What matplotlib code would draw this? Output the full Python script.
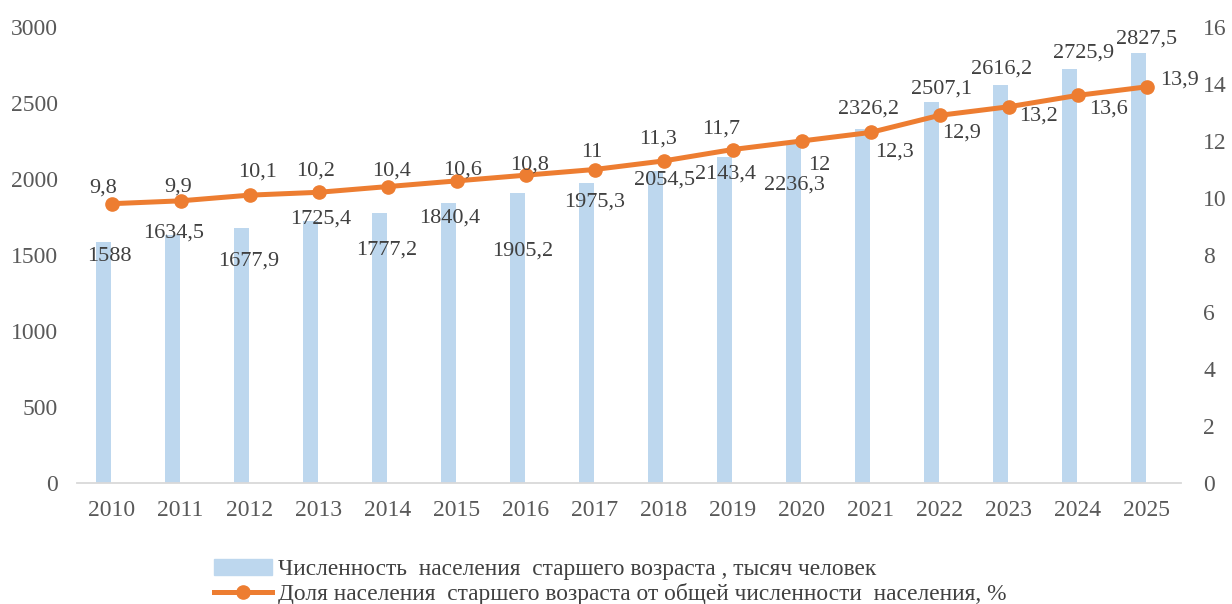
import matplotlib
matplotlib.use('Agg')
import matplotlib.pyplot as plt
from matplotlib.lines import Line2D
from matplotlib.patches import Patch
import numpy as np

plt.rcParams['font.family'] = ['Liberation Serif', 'DejaVu Serif']

years = ['2010', '2011', '2012', '2013', '2014', '2015', '2016', '2017',
         '2018', '2019', '2020', '2021', '2022', '2023', '2024', '2025']
population = [1588, 1634.5, 1677.9, 1725.4, 1777.2, 1840.4, 1905.2, 1975.3,
              2054.5, 2143.4, 2236.3, 2326.2, 2507.1, 2616.2, 2725.9, 2827.5]
share = [9.8, 9.9, 10.1, 10.2, 10.4, 10.6, 10.8, 11,
         11.3, 11.7, 12, 12.3, 12.9, 13.2, 13.6, 13.9]

bar_label = 'Численность  населения  старшего возраста , тысяч человек'
line_label = 'Доля населения  старшего возраста от общей численности  населения, %'

# label offsets in pixels (dx, dy downwards)
bar_offsets = [(6, 15), (1, -2), (7, 33), (10, -2), (7, 37), (1, 15), (5, 58), (8, 19),
               (9, 9), (1, 17), (1, 42), (6, -20), (10, -13), (1, -16), (14, -16), (8, -14)]
line_offsets = [(-8, -16), (-2, -14), (8, -23), (-3, -21), (4, -16), (6, -11), (4, -10), (-3, -17),
                (-5, -22), (-11, -21), (18, 24), (24, 20), (22, 18), (30, 9), (31, 14), (33, -7)]

bar_color = '#BDD7EE'
line_color = '#ED7D31'
tick_color = '#595959'
label_color = '#404040'


def fmt(v):
    return f'{v:g}'.replace('.', ',')


fig = plt.figure(figsize=(12.32, 6.04), dpi=100)
ax = fig.add_axes([77 / 1232, 1 - 483 / 604, 1104 / 1232, 456 / 604])
ax2 = ax.twinx()

x = np.arange(len(years))
bx = x - 0.116
ax.bar(bx, population, width=0.21, color=bar_color)
ax2.plot(x, share, color=line_color, lw=3.6, marker='o', ms=9.5)

ax.set_xlim(-0.5, len(years) - 0.5)
ax.set_ylim(0, 3000)
ax2.set_ylim(0, 16)
ax.set_yticks(np.arange(0, 3001, 500))
ax2.set_yticks(np.arange(0, 17, 2))
ax.set_xticks(x)
ax.set_xticklabels(years)

for a in (ax, ax2):
    for s in a.spines.values():
        s.set_visible(False)
ax.spines['bottom'].set_visible(True)
ax.spines['bottom'].set_color('#D9D9D9')
ax.spines['bottom'].set_linewidth(1.3)

ax.tick_params(axis='y', length=0, pad=13.5, labelsize=17, labelcolor=tick_color)
ax.tick_params(axis='x', length=0, pad=12, labelsize=17, labelcolor=tick_color)
ax2.tick_params(axis='y', length=0, pad=16, labelsize=17, labelcolor=tick_color)

for xi, v, (dx, dy) in zip(bx, population, bar_offsets):
    ax.annotate(fmt(v), (xi, v), xytext=(dx, -dy), textcoords='offset pixels',
                ha='center', va='center', fontsize=16, color=label_color)
for xi, v, (dx, dy) in zip(x, share, line_offsets):
    ax2.annotate(fmt(v), (xi, v), xytext=(dx, -dy), textcoords='offset pixels',
                 ha='center', va='center', fontsize=16, color=label_color)

handles = [Patch(color=bar_color, label=bar_label),
           Line2D([], [], color=line_color, lw=3.6, marker='o', ms=9.5, label=line_label)]
fig.legend(handles=handles, loc='upper left', bbox_to_anchor=(214 / 1232, 1 - 559 / 604),
           frameon=False, fontsize=16.8, handlelength=2.5, handletextpad=0.25,
           labelspacing=0.12, borderpad=0, borderaxespad=0, labelcolor=label_color)

fig.savefig('out.png', dpi=100)
